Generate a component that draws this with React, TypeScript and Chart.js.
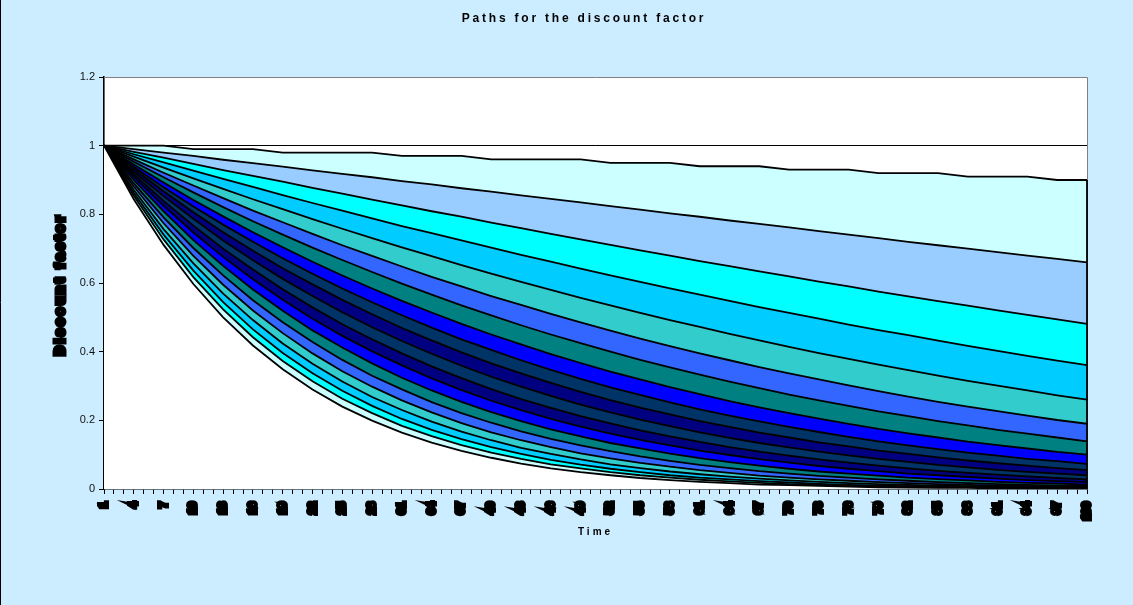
import { useEffect, useRef } from 'react';
import { Chart, registerables } from 'chart.js';

Chart.register(...registerables);

// Time categories (1..100); labels shown every 3rd category
const timeLabels = [
  1, 2, 3, 4, 5, 6, 7, 8, 9, 10, 11, 12, 13, 14, 15, 16, 17, 18, 19, 20,
  21, 22, 23, 24, 25, 26, 27, 28, 29, 30, 31, 32, 33, 34, 35, 36, 37, 38, 39, 40,
  41, 42, 43, 44, 45, 46, 47, 48, 49, 50, 51, 52, 53, 54, 55, 56, 57, 58, 59, 60,
  61, 62, 63, 64, 65, 66, 67, 68, 69, 70, 71, 72, 73, 74, 75, 76, 77, 78, 79, 80,
  81, 82, 83, 84, 85, 86, 87, 88, 89, 90, 91, 92, 93, 94, 95, 96, 97, 98, 99, 100,
];

// Values read at every 3rd category (1, 4, 7, ..., 100)
const sampleStep = 3;

const path01 = [1, 1, 1, 0.99, 0.99, 0.99, 0.98, 0.98, 0.98, 0.98, 0.97, 0.97, 0.97, 0.96, 0.96, 0.96, 0.96, 0.95, 0.95, 0.95, 0.94, 0.94, 0.94, 0.93, 0.93, 0.93, 0.92, 0.92, 0.92, 0.91, 0.91, 0.91, 0.90, 0.90];
const path02 = [1, 0.990, 0.980, 0.970, 0.959, 0.949, 0.939, 0.928, 0.918, 0.908, 0.897, 0.887, 0.876, 0.866, 0.855, 0.845, 0.835, 0.824, 0.814, 0.803, 0.793, 0.782, 0.772, 0.762, 0.751, 0.741, 0.731, 0.720, 0.710, 0.700, 0.690, 0.680, 0.670, 0.660];
const path03 = [1, 0.982, 0.965, 0.947, 0.929, 0.912, 0.895, 0.877, 0.860, 0.843, 0.826, 0.809, 0.793, 0.776, 0.760, 0.743, 0.727, 0.711, 0.695, 0.680, 0.664, 0.649, 0.634, 0.619, 0.604, 0.590, 0.575, 0.561, 0.547, 0.534, 0.520, 0.507, 0.494, 0.481];
const path04 = [1, 0.975, 0.951, 0.927, 0.903, 0.880, 0.856, 0.833, 0.811, 0.788, 0.766, 0.745, 0.724, 0.703, 0.682, 0.662, 0.642, 0.622, 0.603, 0.584, 0.566, 0.548, 0.530, 0.513, 0.496, 0.479, 0.463, 0.448, 0.432, 0.417, 0.402, 0.388, 0.374, 0.361];
const path05 = [1, 0.968, 0.936, 0.905, 0.874, 0.844, 0.815, 0.786, 0.758, 0.731, 0.704, 0.678, 0.652, 0.627, 0.603, 0.580, 0.557, 0.535, 0.513, 0.492, 0.472, 0.452, 0.433, 0.414, 0.396, 0.379, 0.362, 0.346, 0.330, 0.315, 0.301, 0.287, 0.273, 0.260];
const path06 = [1, 0.960, 0.921, 0.884, 0.847, 0.811, 0.777, 0.743, 0.710, 0.679, 0.648, 0.618, 0.590, 0.562, 0.536, 0.510, 0.485, 0.461, 0.438, 0.416, 0.395, 0.375, 0.355, 0.337, 0.319, 0.302, 0.285, 0.269, 0.254, 0.240, 0.227, 0.214, 0.201, 0.190];
const path07 = [1, 0.953, 0.908, 0.864, 0.821, 0.780, 0.741, 0.703, 0.667, 0.632, 0.598, 0.566, 0.535, 0.506, 0.477, 0.450, 0.425, 0.400, 0.376, 0.354, 0.333, 0.313, 0.294, 0.275, 0.258, 0.242, 0.226, 0.212, 0.198, 0.185, 0.172, 0.161, 0.150, 0.139];
const path08 = [1, 0.945, 0.893, 0.842, 0.794, 0.748, 0.704, 0.662, 0.622, 0.584, 0.548, 0.514, 0.481, 0.450, 0.421, 0.393, 0.367, 0.342, 0.319, 0.297, 0.276, 0.256, 0.238, 0.221, 0.205, 0.190, 0.175, 0.162, 0.150, 0.138, 0.128, 0.118, 0.108, 0.100];
const path09 = [1, 0.938, 0.879, 0.823, 0.770, 0.720, 0.672, 0.627, 0.584, 0.544, 0.506, 0.470, 0.436, 0.405, 0.375, 0.347, 0.321, 0.296, 0.274, 0.252, 0.232, 0.214, 0.197, 0.181, 0.166, 0.152, 0.139, 0.127, 0.116, 0.106, 0.097, 0.088, 0.081, 0.073];
const path10 = [1, 0.932, 0.867, 0.806, 0.748, 0.694, 0.643, 0.596, 0.551, 0.509, 0.469, 0.433, 0.398, 0.366, 0.337, 0.309, 0.283, 0.259, 0.237, 0.217, 0.198, 0.181, 0.164, 0.150, 0.136, 0.124, 0.112, 0.102, 0.092, 0.083, 0.075, 0.068, 0.061, 0.055];
const path11 = [1, 0.924, 0.853, 0.787, 0.724, 0.666, 0.612, 0.562, 0.515, 0.471, 0.431, 0.394, 0.359, 0.327, 0.298, 0.271, 0.246, 0.223, 0.202, 0.183, 0.165, 0.149, 0.134, 0.121, 0.109, 0.098, 0.088, 0.079, 0.070, 0.063, 0.056, 0.050, 0.045, 0.040];
const path12 = [1, 0.917, 0.839, 0.767, 0.700, 0.639, 0.582, 0.529, 0.480, 0.436, 0.395, 0.357, 0.323, 0.291, 0.262, 0.236, 0.212, 0.191, 0.171, 0.153, 0.137, 0.122, 0.109, 0.097, 0.086, 0.077, 0.068, 0.060, 0.053, 0.047, 0.042, 0.037, 0.032, 0.028];
const path13 = [1, 0.909, 0.825, 0.747, 0.676, 0.611, 0.551, 0.496, 0.446, 0.401, 0.360, 0.322, 0.288, 0.257, 0.230, 0.204, 0.182, 0.161, 0.143, 0.127, 0.112, 0.099, 0.087, 0.077, 0.067, 0.059, 0.052, 0.045, 0.040, 0.035, 0.030, 0.026, 0.023, 0.020];
const path14 = [1, 0.900, 0.809, 0.725, 0.650, 0.581, 0.519, 0.462, 0.412, 0.366, 0.324, 0.287, 0.254, 0.224, 0.198, 0.174, 0.153, 0.134, 0.118, 0.103, 0.090, 0.078, 0.068, 0.059, 0.051, 0.045, 0.039, 0.033, 0.029, 0.025, 0.021, 0.018, 0.016, 0.013];
const path15 = [1, 0.890, 0.791, 0.702, 0.622, 0.550, 0.486, 0.428, 0.376, 0.330, 0.290, 0.253, 0.221, 0.193, 0.168, 0.146, 0.127, 0.110, 0.095, 0.082, 0.070, 0.061, 0.052, 0.045, 0.038, 0.033, 0.028, 0.024, 0.020, 0.017, 0.014, 0.012, 0.010, 0.009];
const path16 = [1, 0.881, 0.774, 0.679, 0.595, 0.520, 0.454, 0.395, 0.343, 0.298, 0.258, 0.223, 0.192, 0.165, 0.142, 0.122, 0.104, 0.089, 0.076, 0.065, 0.055, 0.047, 0.039, 0.033, 0.028, 0.024, 0.020, 0.017, 0.014, 0.012, 0.010, 0.008, 0.007, 0.006];
const path17 = [1, 0.871, 0.757, 0.657, 0.569, 0.492, 0.424, 0.365, 0.313, 0.268, 0.230, 0.196, 0.167, 0.142, 0.120, 0.102, 0.086, 0.072, 0.061, 0.051, 0.043, 0.036, 0.030, 0.025, 0.021, 0.017, 0.014, 0.012, 0.010, 0.008, 0.006, 0.005, 0.004, 0.004];
const path18 = [1, 0.862, 0.741, 0.636, 0.544, 0.465, 0.396, 0.337, 0.286, 0.242, 0.204, 0.172, 0.145, 0.122, 0.102, 0.085, 0.071, 0.059, 0.049, 0.040, 0.033, 0.028, 0.023, 0.019, 0.015, 0.012, 0.010, 0.008, 0.007, 0.005, 0.004, 0.004, 0.003, 0.002];
const path19 = [1, 0.854, 0.727, 0.617, 0.523, 0.442, 0.373, 0.314, 0.263, 0.221, 0.184, 0.154, 0.128, 0.106, 0.088, 0.072, 0.060, 0.049, 0.040, 0.033, 0.027, 0.022, 0.018, 0.014, 0.012, 0.009, 0.008, 0.006, 0.005, 0.004, 0.003, 0.002, 0.002, 0.002];
const path20 = [1, 0.844, 0.711, 0.597, 0.500, 0.418, 0.349, 0.290, 0.240, 0.199, 0.164, 0.135, 0.111, 0.091, 0.074, 0.060, 0.049, 0.040, 0.032, 0.026, 0.021, 0.017, 0.013, 0.011, 0.009, 0.007, 0.005, 0.004, 0.003, 0.003, 0.002, 0.002, 0.001, 0.001];

const paths = [path01, path02, path03, path04, path05, path06, path07, path08, path09, path10,
  path11, path12, path13, path14, path15, path16, path17, path18, path19, path20];

const pathColors = [
  '#CCFFFF', '#99CCFF', '#00FFFF', '#00CCFF', '#33CCCC', '#3366FF', '#008080', '#0000FF', '#003366', '#000080',
  '#003366', '#000080', '#0000FF', '#008080', '#3366FF', '#33CCCC', '#00CCFF', '#00FFFF', '#CCFFFF', '#FFFFFF',
];

const yTicks = [0, 0.2, 0.4, 0.6, 0.8, 1, 1.2];

const chartTitle = 'Paths for the discount factor';
const xTitle = 'Time';
const yTitle = 'Discount factor';

const FONT = '"Liberation Sans", Arial, sans-serif';

export default function App() {
  const ref = useRef<HTMLCanvasElement | null>(null);

  useEffect(() => {
    const canvas = ref.current;
    if (!canvas) return;

    const toSeries = (vals: number[]) =>
      timeLabels.map((_, i) => (i % sampleStep === 0 ? vals[i / sampleStep] : null));

    // top (highest) path painted first so lower ones cover it: Chart.js paints index 0 last
    const datasets = paths
      .map((p, k) => ({
        label: 'Path ' + (k + 1),
        data: toSeries(p),
        backgroundColor: pathColors[k],
        borderColor: '#000000',
        borderWidth: 1.8,
        fill: 'origin',
        pointRadius: 0,
        pointHoverRadius: 0,
        tension: 0,
        spanGaps: true,
      }))
      .reverse();

    const framePlugin = {
      id: 'frame',
      beforeDraw(chart: any) {
        const { ctx, chartArea: a, width, height } = chart;
        ctx.save();
        ctx.fillStyle = '#CCECFF';
        ctx.fillRect(0, 0, width, height);
        ctx.fillStyle = '#FFFFFF';
        ctx.fillRect(a.left, a.top, a.right - a.left, a.bottom - a.top);
        ctx.strokeStyle = '#000000';
        ctx.lineWidth = 1;
        ctx.beginPath();
        ctx.moveTo(0.5, 0);
        ctx.lineTo(0.5, height);
        ctx.stroke();
        ctx.restore();
      },
      afterDatasetsDraw(chart: any) {
        const { ctx, chartArea: a, scales } = chart;
        ctx.save();
        ctx.strokeStyle = '#808080';
        ctx.lineWidth = 1;
        ctx.beginPath();
        ctx.moveTo(a.left, a.top + 0.5);
        ctx.lineTo(a.right + 0.5, a.top + 0.5);
        ctx.lineTo(a.right + 0.5, a.bottom);
        ctx.stroke();
        // closing edge of the area outlines at the last category
        const last = timeLabels.length - 1;
        const x = scales.x.getPixelForValue(last);
        const yTop = scales.y.getPixelForValue(path01[path01.length - 1]);
        const yBot = scales.y.getPixelForValue(0);
        ctx.strokeStyle = '#000000';
        ctx.lineWidth = 1.8;
        ctx.beginPath();
        ctx.moveTo(x, yTop);
        ctx.lineTo(x, yBot);
        ctx.stroke();
        ctx.restore();
      },
      afterDraw(chart: any) {
        const { ctx, chartArea: a } = chart;
        ctx.save();
        ctx.fillStyle = '#000000';
        ctx.textAlign = 'center';
        ctx.textBaseline = 'middle';
        ctx.font = `bold 12px ${FONT}`;
        (ctx as any).letterSpacing = '2.8px';
        ctx.fillText(chartTitle, 584, 19);
        ctx.font = `bold 10px ${FONT}`;
        (ctx as any).letterSpacing = '3px';
        ctx.fillText(xTitle, (a.left + a.right) / 2, 532);
        ctx.restore();

        ctx.save();
        ctx.translate(61, 284);
        ctx.rotate(-Math.PI / 2);
        ctx.textAlign = 'center';
        ctx.textBaseline = 'middle';
        ctx.font = `bold 12px ${FONT}`;
        (ctx as any).letterSpacing = '3.6px';
        ctx.fillStyle = '#000000';
        ctx.strokeStyle = '#000000';
        ctx.lineWidth = 5;
        ctx.lineJoin = 'miter';
        ctx.strokeText(yTitle, 0, 0);
        ctx.fillText(yTitle, 0, 0);
        ctx.restore();
      },
    };

    const chart = new Chart(canvas, {
      type: 'line',
      data: { labels: timeLabels.map(String), datasets: datasets as any },
      plugins: [framePlugin],
      options: {
        animation: false,
        responsive: false,
        events: [],
        layout: { padding: { left: 0, top: 77, right: 46, bottom: 0 } },
        plugins: {
          legend: { display: false },
          title: { display: false },
          tooltip: { enabled: false },
        },
        scales: {
          x: {
            type: 'category',
            offset: false,
            afterFit: (s: any) => {
              s.height = 116;
            },
            grid: {
              drawOnChartArea: false,
              drawTicks: true,
              tickLength: 5,
              tickColor: '#000000',
              tickWidth: 1,
            },
            border: { display: true, color: '#000000', width: 1.6 },
            ticks: {
              autoSkip: false,
              minRotation: 90,
              maxRotation: 90,
              padding: 8,
              color: '#000000',
              textStrokeColor: '#000000',
              textStrokeWidth: 4,
              font: { family: FONT, size: 11, weight: 'bold' },
              callback: (_v: any, i: number) => (i % sampleStep === 0 ? String(timeLabels[i]) : ''),
            },
          },
          y: {
            min: yTicks[0],
            max: yTicks[yTicks.length - 1],
            afterFit: (s: any) => {
              s.width = 104;
            },
            afterBuildTicks: (s: any) => {
              s.ticks = yTicks.map((v) => ({ value: v }));
            },
            grid: {
              drawOnChartArea: true,
              drawTicks: true,
              tickLength: 5,
              tickColor: '#000000',
              color: (c: any) => (c.tick && Math.abs(c.tick.value - 1) < 1e-6 ? '#000000' : 'rgba(0,0,0,0)'),
              lineWidth: 1,
            },
            border: { display: true, color: '#000000', width: 1.6 },
            ticks: {
              padding: 4,
              color: '#111111',
              font: { family: FONT, size: 11 },
              callback: (v: any) => String(+Number(v).toFixed(1)),
            },
          },
        },
      } as any,
    });

    return () => chart.destroy();
  }, []);

  return (
    <div style={{ position: 'absolute', left: 0, top: 0, width: 1133, height: 605 }}>
      <canvas ref={ref} width={1133} height={605} style={{ display: 'block', width: 1133, height: 605 }} />
    </div>
  );
}
